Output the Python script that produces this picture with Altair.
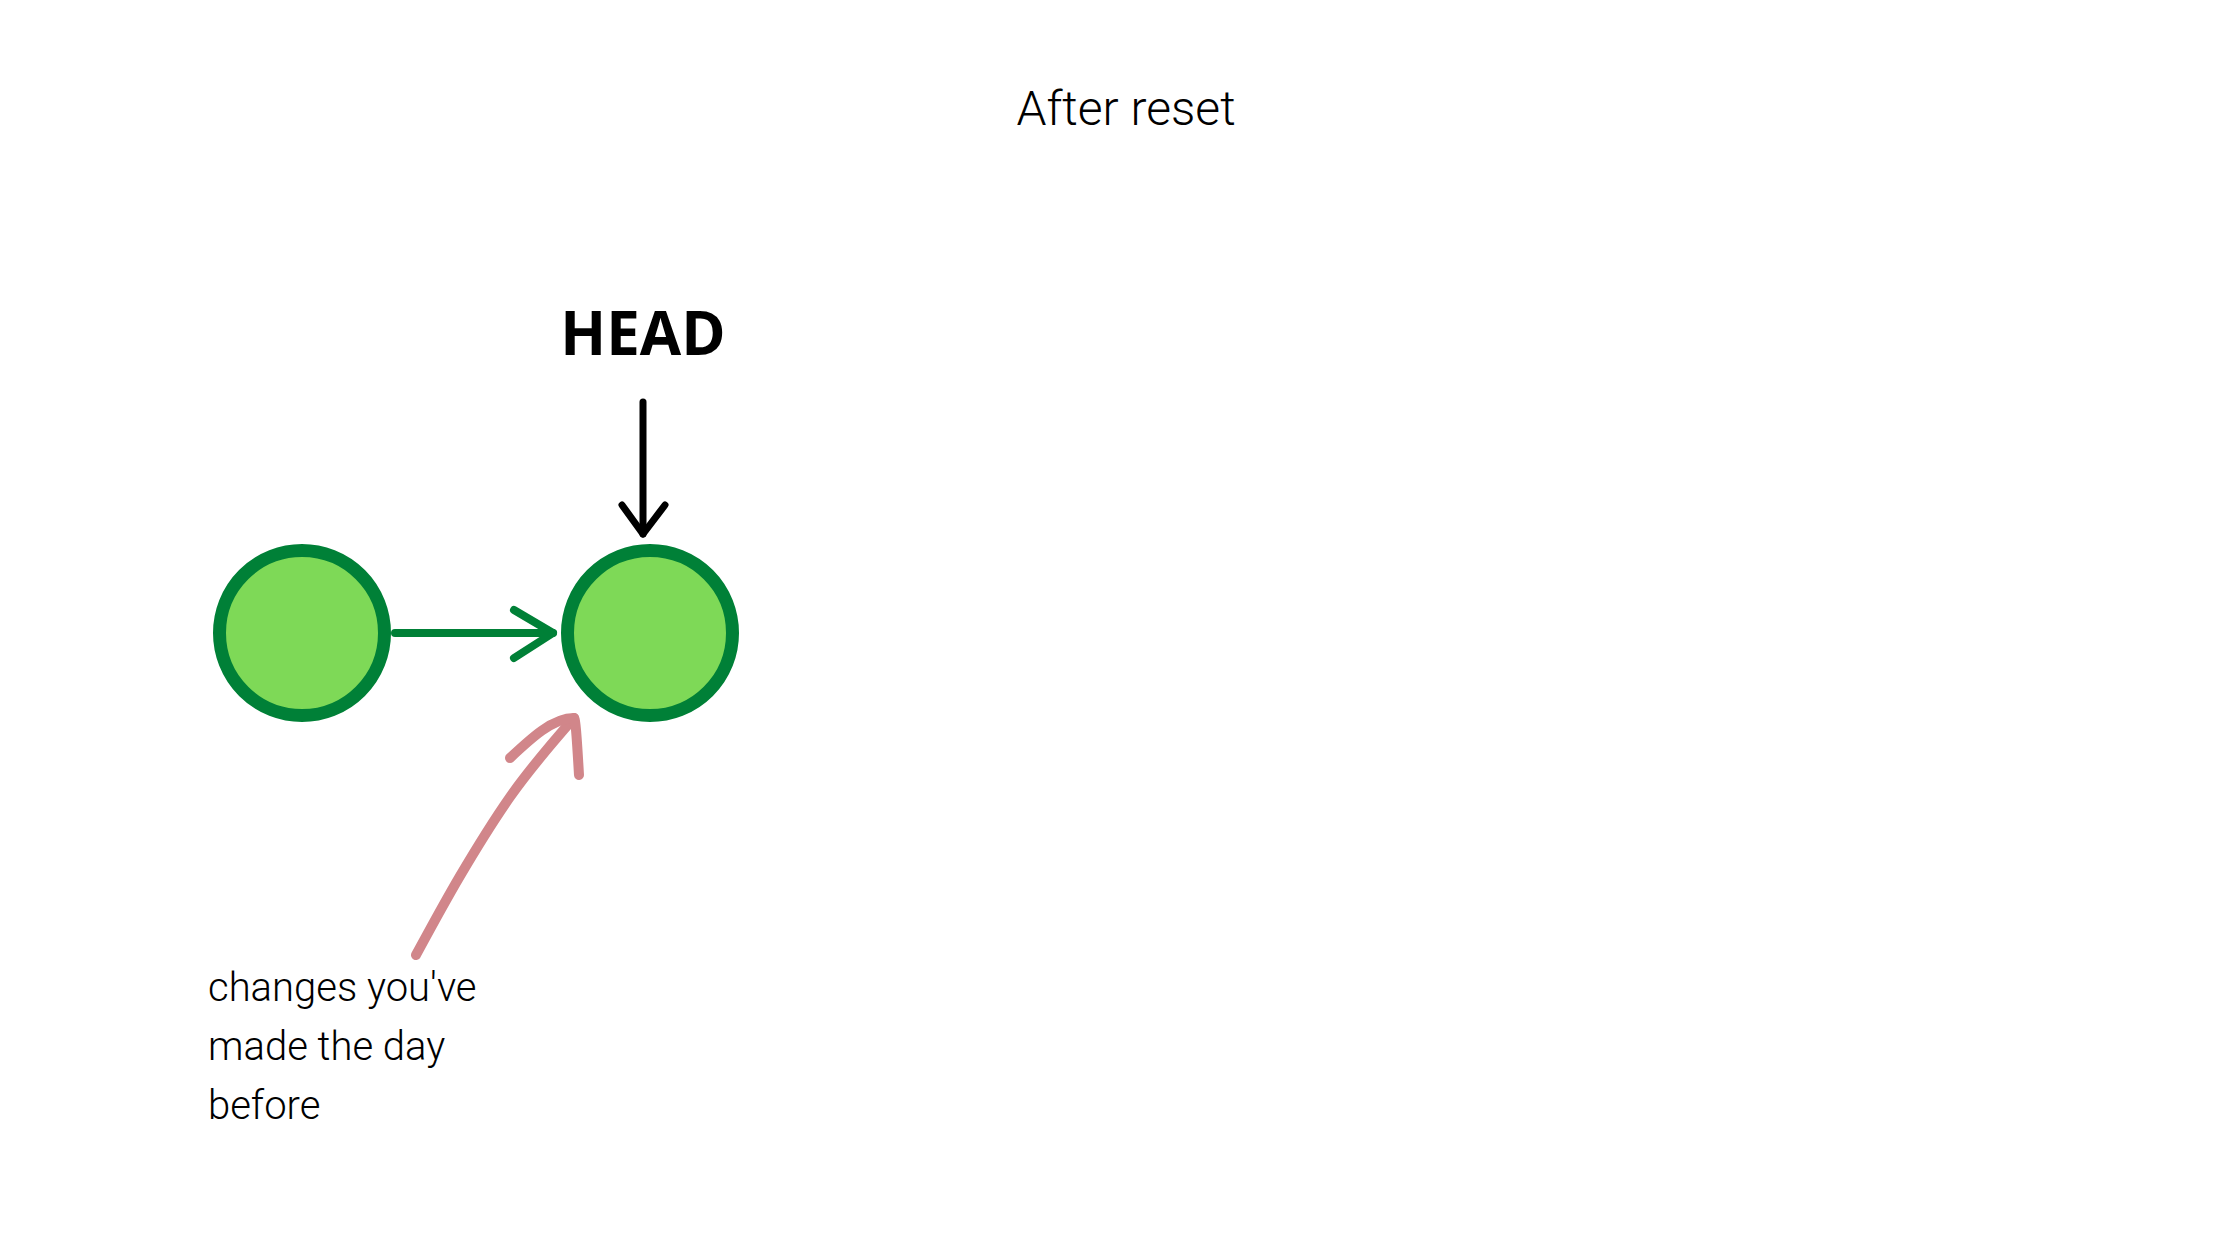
import altair as alt
import pandas as pd

W, H = 2224, 1244

# commit nodes
node_x = [302, 650]
node_y = [633, 633]

# line segments: (group, order, x, y)
green_grp = ["shaft", "shaft", "head", "head", "head"]
green_x = [395, 553, 514, 553, 514]
green_y = [633, 633, 610, 633, 658]

black_grp = ["shaft", "shaft", "head", "head", "head"]
black_x = [643, 643, 622, 643, 665]
black_y = [402, 534, 505, 534, 505]

pink_grp = ["curve", "curve", "curve", "curve", "head", "head", "head"]
pink_x = [416, 460, 510, 574, 510, 574, 579]
pink_y = [955, 876, 797, 718, 758, 718, 775]

note_lines = ["changes you've", "made the day", "before"]
note_y = [1001, 1060, 1119]

xs = alt.Scale(domain=[8, 8 + W], nice=False, zero=False)
ys = alt.Scale(domain=[8 + H, 8], nice=False, zero=False)
X = lambda f: alt.X(f, scale=xs, axis=None)
Y = lambda f: alt.Y(f, scale=ys, axis=None)


def segs(grp, x, y, color, width):
    df = pd.DataFrame({"g": grp, "o": range(len(x)), "x": x, "y": y})
    return alt.Chart(df).mark_line(color=color, strokeWidth=width, strokeCap="round",
                                   strokeJoin="round", interpolate="monotone").encode(
        x=X("x:Q"), y=Y("y:Q"), detail="g:N", order="o:Q")


green = segs(green_grp, green_x, green_y, "#008037", 8).mark_line(
    color="#008037", strokeWidth=8, strokeCap="round", strokeJoin="round")
black = segs(black_grp, black_x, black_y, "#000000", 7).mark_line(
    color="#000000", strokeWidth=7, strokeCap="round", strokeJoin="round")
pink = segs(pink_grp, pink_x, pink_y, "#d1868a", 10)

nodes = alt.Chart(pd.DataFrame({"x": node_x, "y": node_y})).mark_point(
    shape="circle", filled=True, fill="#7ed957", stroke="#008037", strokeWidth=13,
    size=27225, opacity=1).encode(x=X("x:Q"), y=Y("y:Q"))

title = alt.Chart(pd.DataFrame({"x": [1126], "y": [111], "t": ["After reset"]})).mark_text(
    font="Roboto", fontSize=48, fontWeight=300, color="#000", baseline="middle").encode(
    x=X("x:Q"), y=Y("y:Q"), text="t:N")

head = alt.Chart(pd.DataFrame({"x": [643], "y": [337], "t": ["HEAD"]})).mark_text(
    font="Open Sans", fontSize=60, fontWeight="bold", color="#000", baseline="middle").encode(
    x=X("x:Q"), y=Y("y:Q"), text="t:N")

note = alt.Chart(pd.DataFrame({"x": [208] * 3, "y": note_y, "t": note_lines})).mark_text(
    font="Roboto", fontSize=40, fontWeight=300, color="#000", align="left",
    baseline="alphabetic").encode(x=X("x:Q"), y=Y("y:Q"), text="t:N")

chart = alt.layer(green, black, pink, nodes, title, head, note).properties(
    width=W, height=H, autosize=alt.AutoSizeParams(type="fit", contains="padding"),
    padding=0).configure_view(stroke=None)

chart.save("out.html", embed_options={"renderer": "svg", "actions": False})
